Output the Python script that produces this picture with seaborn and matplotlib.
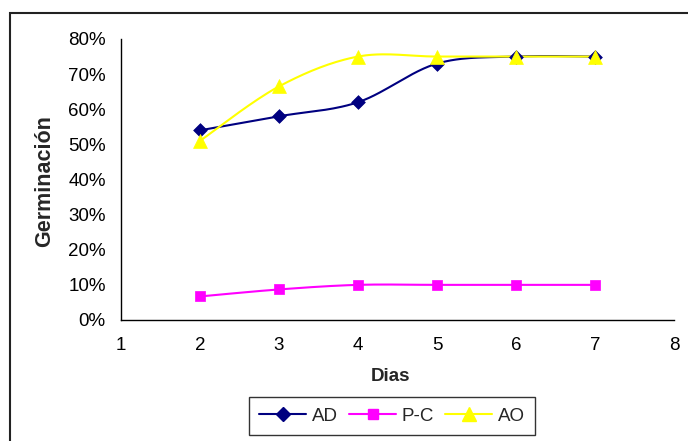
import numpy as np
import matplotlib
matplotlib.use("Agg")
import matplotlib.pyplot as plt
from matplotlib.lines import Line2D
from matplotlib.patches import Rectangle
from matplotlib.ticker import PercentFormatter, MultipleLocator
import seaborn as sns

# Germination percentage per day for each treatment
dias = [2, 3, 4, 5, 6, 7]
ad = [54.0, 58.0, 62.0, 73.0, 75.0, 75.0]
pc = [6.7, 8.7, 10.0, 10.0, 10.0, 10.0]
ao = [51.0, 66.5, 75.0, 75.0, 75.0, 75.0]

series_names = ["AD", "P-C", "AO"]
series_values = [ad, pc, ao]
colors = ["#000080", "#FF00FF", "#FFFF00"]
markers = ["D", "s", "^"]
marker_sizes = [7, 7.5, 10]

sns.set_theme(style="white")
plt.rcParams["font.family"] = ["Liberation Sans", "DejaVu Sans"]


def smooth(xs, ys, n=30):
    """Bezier smoothing through every point (Catmull-Rom style control points)."""
    p = np.column_stack([xs, ys]).astype(float)
    out = [p[0]]
    for i in range(len(p) - 1):
        p0 = p[i - 1] if i > 0 else p[i]
        p1, p2 = p[i], p[i + 1]
        p3 = p[i + 2] if i + 2 < len(p) else p[i + 1]
        c1 = p1 + (p2 - p0) / 6.0
        c2 = p2 - (p3 - p1) / 6.0
        t = np.linspace(0, 1, n)[1:, None]
        seg = ((1 - t) ** 3) * p1 + 3 * ((1 - t) ** 2) * t * c1 + 3 * (1 - t) * t ** 2 * c2 + t ** 3 * p2
        out.extend(seg)
    out = np.array(out)
    return out[:, 0], out[:, 1]


fig = plt.figure(figsize=(6.88, 4.41), dpi=100)
ax = fig.add_axes([0.1759, 0.2744, 0.8038, 0.6372])

for name, vals, col, mk, ms in zip(series_names, series_values, colors, markers, marker_sizes):
    sx, sy = smooth(dias, vals)
    sns.lineplot(x=sx, y=sy, ax=ax, color=col, linewidth=1.5, sort=False,
                 estimator=None, legend=False)
    sns.scatterplot(x=dias, y=vals, ax=ax, color=col, marker=mk, s=ms ** 2,
                    edgecolor=col, linewidth=0.5, legend=False, zorder=3, clip_on=False)

ax.set_xlim(1, 8)
ax.set_ylim(0, 80)
ax.xaxis.set_major_locator(MultipleLocator(1))
ax.yaxis.set_major_locator(MultipleLocator(10))
ax.yaxis.set_major_formatter(PercentFormatter(100, decimals=0))

for side in ["top", "right"]:
    ax.spines[side].set_visible(False)
for side in ["left", "bottom"]:
    ax.spines[side].set_color("black")
    ax.spines[side].set_linewidth(1.0)

ax.tick_params(axis="both", which="major", direction="out", length=4, width=1.0,
               color="black", labelsize=13.5, labelcolor="black")
ax.tick_params(axis="y", pad=7)
ax.tick_params(axis="x", pad=8.5)

ax.set_xlabel("")
ax.set_ylabel("")
fig.text(0.568, 0.147, "Dias", ha="center", va="center", fontsize=13.5, fontweight="bold")
fig.text(0.065, 0.59, "Germinación", ha="center", va="center", rotation=90,
         fontsize=15.5, fontweight="bold")

handles = [Line2D([0], [0], color=c, marker=m, markersize=ms, linewidth=1.5,
                  markeredgecolor=c) for c, m, ms in zip(colors, markers, marker_sizes)]
leg = fig.legend(handles, series_names, loc="center", bbox_to_anchor=(0.570, 0.056),
                 ncol=3, frameon=True, fontsize=13.5, handlelength=2.5, handletextpad=0.3,
                 columnspacing=0.6, borderpad=0.55, borderaxespad=0, fancybox=False)
leg.get_frame().set_edgecolor("black")
leg.get_frame().set_linewidth(1.0)

# outer chart frame
fig.patches.append(Rectangle((10 / 688, -0.1), 1.2, 1 - 13 / 441 + 0.1,
                             transform=fig.transFigure, fill=False,
                             edgecolor="#222222", linewidth=1.5))

fig.savefig("out.png", dpi=100)
